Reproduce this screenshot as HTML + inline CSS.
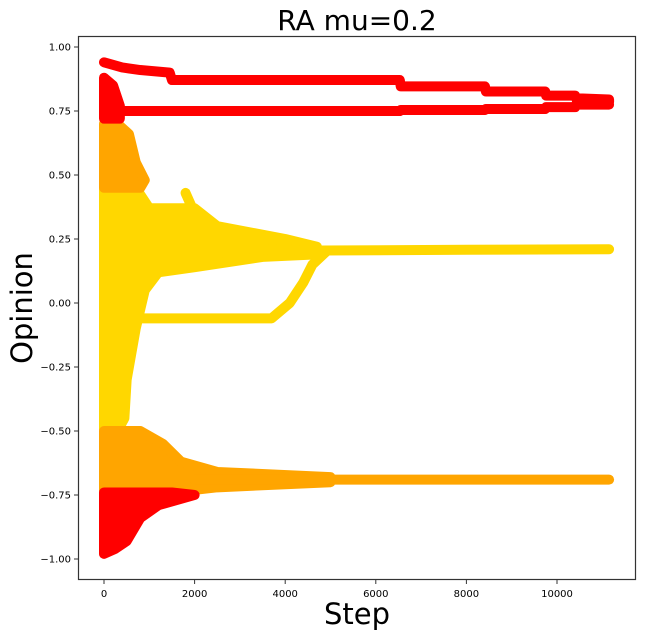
<!DOCTYPE html>
<html><head><meta charset="utf-8"><style>
body{margin:0;background:#fff;}
svg{display:block;font-family:"DejaVu Sans","Liberation Sans",sans-serif;}
</style></head><body>
<svg id="chart" width="646" height="637">
<text x="357" y="30" font-size="28" text-anchor="middle">RA mu=0.2</text>
<g id="marks"></g>
<rect x="78.5" y="36.5" width="557" height="543" fill="none" stroke="#333" stroke-width="1.2"/>
<g id="axes"></g>
<text x="357" y="624" font-size="29" text-anchor="middle">Step</text>
<text transform="translate(32,308) rotate(-90)" font-size="29" text-anchor="middle">Opinion</text>
</svg>
<script>
const xTicks=[0,2000,4000,6000,8000,10000];
const yTicks=[1.00,0.75,0.50,0.25,0.00,-0.25,-0.50,-0.75,-1.00];
// trajectories [step, opinion]
const redUpper=[[0,0.94],[400,0.92],[800,0.91],[1450,0.90],[1500,0.871],[6530,0.871],[6550,0.846],[8410,0.846],[8430,0.826],[9740,0.826],[9760,0.81],[10400,0.81],[10420,0.80],[11150,0.795],[11150,0.785]];
const redLower=[[100,0.75],[6530,0.75],[6550,0.754],[8410,0.754],[8430,0.758],[9740,0.758],[9760,0.765],[10400,0.765],[10420,0.775],[11150,0.775]];
const yellowMain=[[3500,0.21],[4800,0.205],[8000,0.208],[11150,0.21]];
const yellowLow=[[500,-0.06],[3700,-0.06],[4100,0.0],[4400,0.08],[4600,0.15],[4900,0.2]];
const orangeMain=[[2000,-0.69],[5000,-0.69],[11150,-0.69]];
// blob outlines [step, opinion]
const orangeTop=[[0,0.7],[300,0.7],[550,0.66],[700,0.55],[900,0.48],[800,0.45],[0,0.45]];
const redTopBlob=[[0,0.88],[200,0.85],[350,0.77],[350,0.72],[0,0.72]];
const yellowBlob=[[0,0.45],[700,0.45],[1000,0.37],[2000,0.37],[2500,0.30],[4000,0.25],[4700,0.22],[4700,0.19],[3500,0.18],[2000,0.14],[1200,0.12],[900,0.05],[700,-0.1],[500,-0.3],[450,-0.45],[300,-0.5],[0,-0.5]];
const orangeBottom=[[0,-0.5],[800,-0.5],[1300,-0.55],[1700,-0.62],[2500,-0.66],[5000,-0.68],[5000,-0.70],[2500,-0.72],[1500,-0.74],[0,-0.74]];
const redBottom=[[0,-0.74],[1500,-0.74],[2000,-0.75],[1200,-0.79],[800,-0.84],[500,-0.93],[250,-0.96],[0,-0.98]];
const yellowSpike=[[1800,0.43],[2000,0.35],[2200,0.30],[2050,0.27]];

const X0=78,X1=636,Y0=36,Y1=580;
const sx=v=>104+v*0.04530;
const sy=v=>303-v*256;
const NS="http://www.w3.org/2000/svg";
const marks=document.getElementById('marks'),axes=document.getElementById('axes');
function poly(arr,color,name){
  const p=document.createElementNS(NS,'polygon');
  p.setAttribute('points',arr.map(d=>sx(d[0])+','+sy(d[1])).join(' '));
  p.setAttribute('fill',color);p.setAttribute('stroke',color);p.setAttribute('stroke-width','10');p.setAttribute('stroke-linejoin','round');
  
  
  marks.appendChild(p);
}
function line(arr,color,name){
  const p=document.createElementNS(NS,'polyline');
  p.setAttribute('points',arr.map(d=>sx(d[0])+','+sy(d[1])).join(' '));
  p.setAttribute('fill','none');p.setAttribute('stroke',color);p.setAttribute('stroke-width','10');p.setAttribute('stroke-linejoin','round');p.setAttribute('stroke-linecap','round');
  
  
  marks.appendChild(p);
}
poly(yellowBlob,'#ffd700','yellow-cluster');
line(yellowSpike,'#ffd700','yellow-spike');
line(yellowMain,'#ffd700','yellow-consensus-line');
line(yellowLow,'#ffd700','yellow-low-trajectory');
poly(orangeTop,'#ffa500','orange-top-cluster');
poly(redTopBlob,'#ff0000','red-top-cluster');
poly(orangeBottom,'#ffa500','orange-bottom-cluster');
line(orangeMain,'#ffa500','orange-consensus-line');
poly(redBottom,'#ff0000','red-bottom-cluster');
line(redUpper,'#ff0000','red-upper-line');
line(redLower,'#ff0000','red-lower-line');
xTicks.forEach(v=>{
  const l=document.createElementNS(NS,'line');
  l.setAttribute('x1',sx(v));l.setAttribute('x2',sx(v));l.setAttribute('y1',Y1);l.setAttribute('y2',Y1+4);l.setAttribute('stroke','#333');
  
  
  axes.appendChild(l);
  const t=document.createElementNS(NS,'text');
  t.setAttribute('x',sx(v));t.setAttribute('y',Y1+17);t.setAttribute('font-size','10');t.setAttribute('text-anchor','middle');
  t.textContent=String(v);
  
  
  axes.appendChild(t);
});
yTicks.forEach(v=>{
  const l=document.createElementNS(NS,'line');
  l.setAttribute('x1',X0-4);l.setAttribute('x2',X0);l.setAttribute('y1',sy(v));l.setAttribute('y2',sy(v));l.setAttribute('stroke','#333');
  
  
  axes.appendChild(l);
  const t=document.createElementNS(NS,'text');
  t.setAttribute('x',X0-7);t.setAttribute('y',sy(v)+3.5);t.setAttribute('font-size','10');t.setAttribute('text-anchor','end');
  t.textContent=(v<0?'\u2212':'')+Math.abs(v).toFixed(2);
  
  
  axes.appendChild(t);
});
</script>
</body></html>
